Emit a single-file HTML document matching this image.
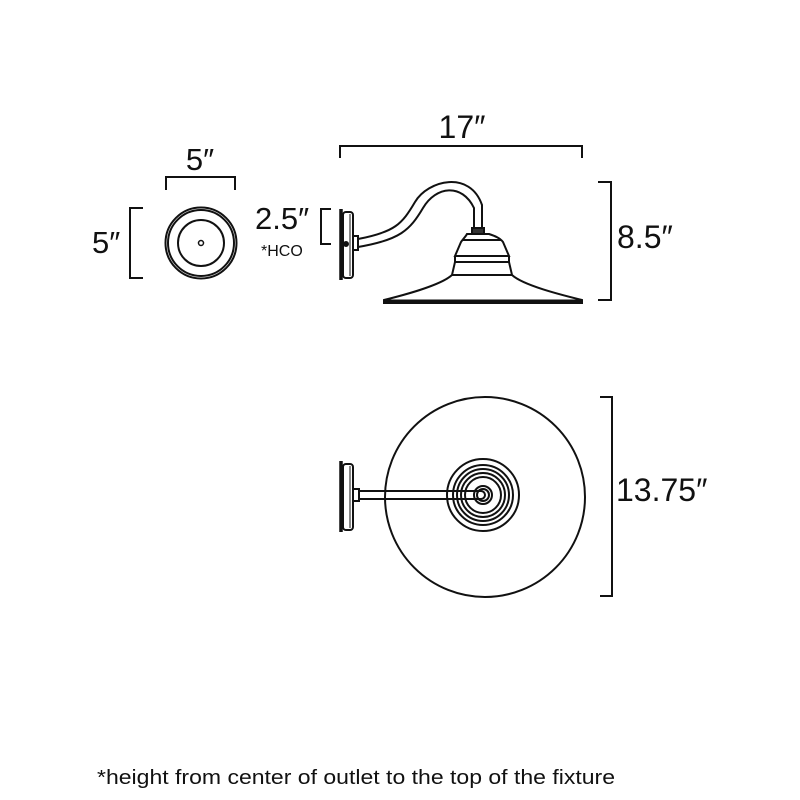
<!DOCTYPE html>
<html><head><meta charset="utf-8"><style>
html,body{margin:0;padding:0;background:#fff;}
svg{display:block}
text{font-family:"Liberation Sans",sans-serif;fill:#111}
</style></head><body>
<svg width="800" height="800" viewBox="0 0 800 800" xmlns="http://www.w3.org/2000/svg">
<g fill="none" stroke="#111" stroke-width="2">
<polyline points="166,190 166,177 235,177 235,190"/>
<polyline points="143,208 130,208 130,278 143,278"/>
<circle cx="201" cy="243" r="35.5"/>
<circle cx="201" cy="243" r="33"/>
<circle cx="201" cy="243" r="23"/>
<circle cx="201" cy="243" r="2.5" stroke-width="1.5"/>
<polyline points="331,209 321,209 321,244 331,244"/>
<polyline points="340,158 340,146 582,146 582,158"/>
<polyline points="598,182 611,182 611,300 598,300"/>
<line x1="341" y1="209" x2="341" y2="280" stroke-width="3.5"/>
<rect x="343" y="212" width="10" height="66" rx="3"/>
<line x1="350" y1="214" x2="350" y2="276" stroke-width="1"/>
<rect x="353" y="236" width="5" height="14"/>
<circle cx="346" cy="244" r="2" fill="#111"/>
<path d="M358,239 C395,232 402,224 415,202 C428,180 470,170 482,205 L482,230"/>
<path d="M358,247 C400,240 410,230 423,208 C436,186 462,183 474,208 L474,230"/>
<rect x="472" y="228" width="12" height="6" fill="#333"/>
<path d="M467,234 L489,234 C495,236 500,238 503,242 L509,256 L455,256 L461,242 C464,238 466,236 467,234Z"/>
<line x1="463" y1="240" x2="501" y2="240"/>
<path d="M455,256 L455,262 L509,262 L509,256"/>
<path d="M455,262 L452,275 C440,286 400,296 384,300 L384,303 L582,303 L582,300 C566,296 524,286 512,275 L509,262"/>
<line x1="452" y1="275" x2="512" y2="275"/>
<line x1="384" y1="301" x2="582" y2="301" stroke-width="3"/>
<circle cx="485" cy="497" r="100"/>
<circle cx="483" cy="495" r="36"/>
<circle cx="483" cy="495" r="30"/>
<circle cx="483" cy="495" r="26"/>
<circle cx="483" cy="495" r="22"/>
<circle cx="483" cy="495" r="18"/>
<circle cx="483" cy="495" r="9"/>
<circle cx="483" cy="495" r="6"/>
<line x1="341" y1="461" x2="341" y2="532" stroke-width="3.5"/>
<rect x="343" y="464" width="10" height="66" rx="3"/>
<line x1="350" y1="466" x2="350" y2="528" stroke-width="1"/>
<rect x="353" y="489" width="6" height="12"/>
<path d="M359,491 L481,491 A4,4 0 0 1 481,499 L359,499"/>
<polyline points="600,397 612,397 612,596 600,596"/>
</g>
<text x="200" y="170" font-size="31" text-anchor="middle">5″</text>
<text x="92" y="253" font-size="31">5″</text>
<text x="255" y="229" font-size="31">2.5″</text>
<text x="261" y="256" font-size="16">*HCO</text>
<text x="462" y="138" font-size="32" text-anchor="middle">17″</text>
<text x="617" y="248" font-size="32">8.5″</text>
<text x="616" y="501" font-size="32">13.75″</text>
<text x="97" y="784" font-size="20" textLength="518" lengthAdjust="spacingAndGlyphs">*height from center of outlet to the top of the fixture</text>
</svg>
</body></html>
